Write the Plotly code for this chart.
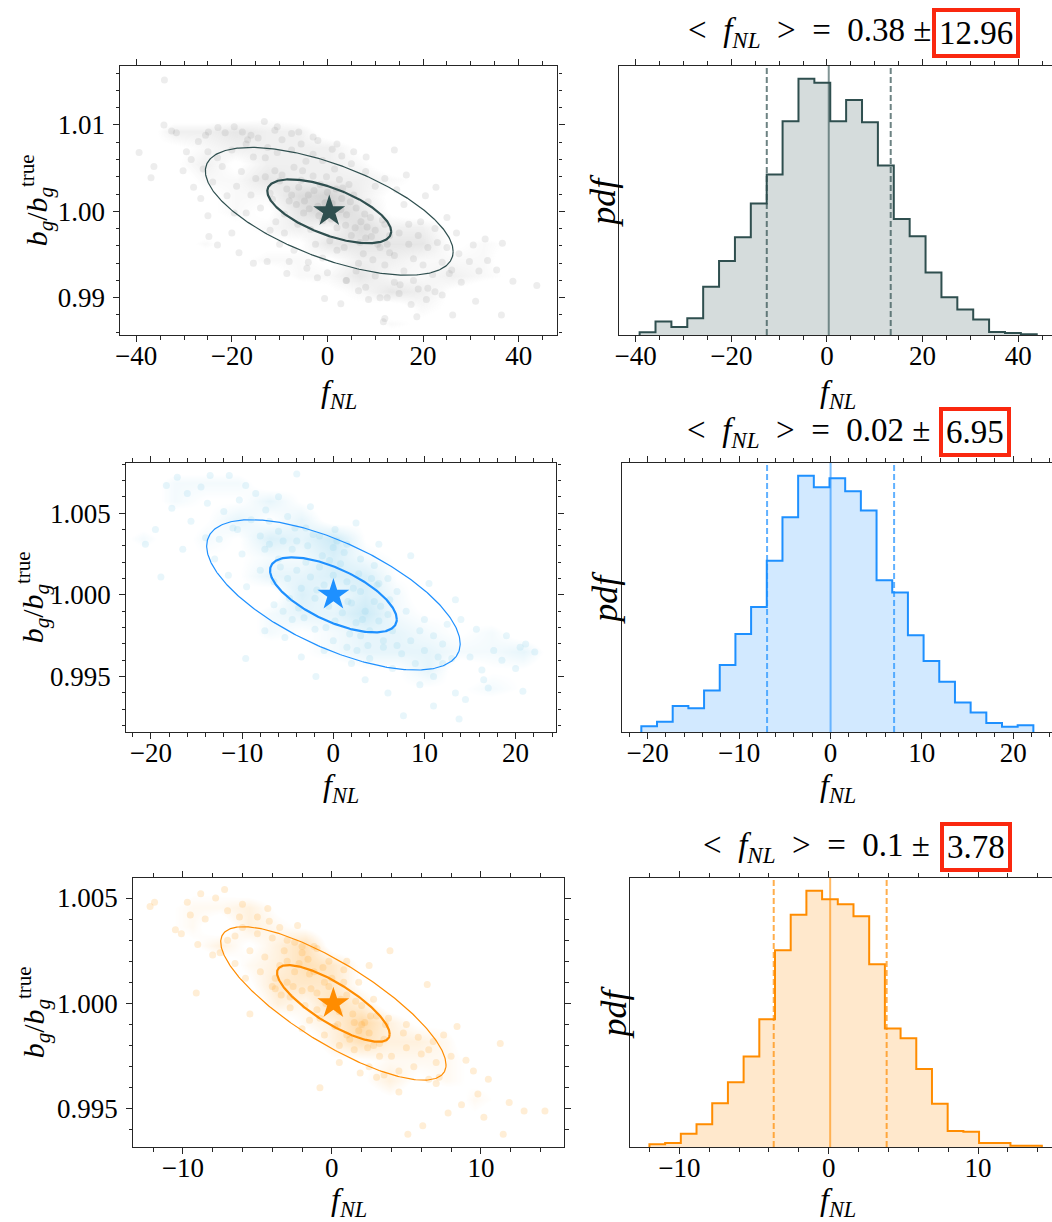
import numpy as np
import plotly.graph_objects as go

# ------------------------------------------------------------------
# Samples of (f_NL, b_g / b_g^true) for the three survey configurations
# ------------------------------------------------------------------
CLOUD_1 = [
    (-34.1, 1.0152), (-34.2, 1.0100), (-32.6, 1.0093), (-31.6, 1.0091), (-39.4, 1.0068),
    (-36.9, 1.0039), (-36.3, 1.0052), (-13.2, 1.0104), (-24.9, 1.0092), (-22.9, 1.0097),
    (-21.4, 1.0091), (-16.7, 1.0083), (14.0, 1.0071), (8.1, 1.0063), (22.7, 1.0028),
    (36.6, 0.9963), (33.5, 0.9943), (35.4, 0.9932), (29.7, 0.9942), (31.7, 0.9931),
    (38.8, 0.9919), (43.8, 0.9914), (36.4, 0.9880), (26.2, 0.9880), (18.7, 0.9878),
    (11.7, 0.9872), (12.0, 0.9876), (31.0, 0.9896), (20.7, 0.9898), (22.5, 0.9907),
    (19.0, 0.9910), (-0.6, 0.9899), (2.8, 0.9893), (12.5, 0.9900), (8.6, 0.9898),
    (-25.0, 0.9995), (-24.8, 0.9971), (-23.0, 0.9961), (-15.5, 0.9940), (-12.6, 0.9942),
    (-4.3, 0.9934), (-2.1, 0.9923), (3.9, 0.9920), (15.2, 0.9915), (28.0, 0.9918),
    (-28.5, 1.0060), (-30.2, 1.0047), (-27.0, 1.0081), (-25.5, 1.0088), (-19.5, 1.0098),
    (-17.8, 1.0092), (-10.5, 1.0098), (-7.5, 1.0090), (-3.0, 1.0086), (2.0, 1.0078),
    (5.5, 1.0069), (-28.0, 1.0028), (-26.5, 1.0015), (27.5, 0.9951), (30.5, 0.9961),
    (25.5, 0.9928), (24.0, 0.9903), (33.0, 0.9968), (27.0, 0.9975), (17.5, 0.9892),
    (6.5, 0.9908), (-8.5, 0.9928), (-18.5, 0.9952), (-20.0, 0.9975), (-29.5, 1.0069),
    (16.5, 1.0042), (20.5, 1.0018), (25.0, 0.9993),
    (-22.0, 1.0052), (-20.0, 1.0071), (-19.0, 1.0029), (-18.0, 1.0046), (-17.0, 1.0078),
    (-16.0, 1.0019), (-15.5, 1.0063), (-14.5, 1.0085), (-12.5, 1.0074), (-10.5, 1.0068),
    (-9.5, 1.0083), (-7.5, 1.0071), (-5.5, 1.0078), (-3.0, 1.0066), (-1.0, 1.0059),
    (1.0, 1.0072), (3.0, 1.0064), (5.0, 1.0055), (-21.0, 1.0018), (-24.0, 1.0034),
    (-23.0, 1.0062), (-19.5, 0.9998), (-12.0, 0.9978), (-10.0, 0.9962), (-7.0, 0.9955),
    (-4.0, 0.9941), (-1.0, 0.9946), (0.0, 0.9929), (2.0, 0.9955), (4.0, 0.9920),
    (6.0, 0.9931), (8.0, 0.9912), (10.0, 0.9925), (12.0, 0.9938), (14.0, 0.9918),
    (16.0, 0.9931), (17.0, 0.9962), (18.0, 0.9945), (19.0, 0.9972), (20.0, 0.9938),
    (21.0, 0.9958), (22.0, 0.9927), (23.0, 0.9964), (24.0, 0.9941), (25.0, 0.9958),
    (19.5, 0.9988), (16.0, 1.0008), (14.5, 1.0025), (12.0, 1.0038), (10.0, 1.0029),
    (8.0, 1.0046), (21.0, 0.9911), (26.0, 0.9932), (-26.0, 1.0049), (-25.0, 1.0069),
    (-17.0, 0.9998), (-8.0, 0.9942), (15.0, 0.9905), (11.0, 0.9900), (18.0, 0.9920),
    (-2.0, 1.0082), (-6.0, 1.0092), (-11.0, 1.0094), (-16.0, 1.0088), (-13.0, 1.0040),
    (-9.0, 0.9975), (13.0, 0.9952), (17.0, 0.9985), (22.5, 0.9980),
    (-10.0, 1.0035), (-8.0, 1.0012), (-6.0, 1.0028), (-5.0, 0.9998), (-4.0, 1.0019),
    (-3.0, 1.0041), (-2.0, 1.0006), (-1.0, 0.9989), (0.0, 1.0022), (1.0, 1.0009),
    (2.0, 0.9981), (3.0, 1.0015), (4.0, 0.9996), (5.0, 0.9972), (6.0, 1.0004),
    (7.0, 0.9988), (8.0, 0.9969), (9.0, 0.9993), (10.0, 0.9978), (11.0, 0.9958),
    (12.0, 0.9985), (-12.0, 1.0021), (-11.0, 1.0047), (-9.0, 0.9997), (-7.0, 1.0051),
    (-6.5, 1.0008), (-3.5, 0.9979), (-1.5, 1.0031), (0.5, 0.9966), (2.5, 1.0037),
    (3.5, 0.9958), (5.5, 1.0019), (7.5, 0.9951), (8.5, 1.0011), (10.5, 0.9962),
    (13.0, 0.9972), (14.0, 0.9949), (-14.0, 1.0004), (-13.0, 1.0062), (-4.5, 1.0058),
    (1.5, 1.0049), (4.5, 1.0031), (6.5, 0.9940), (9.5, 0.9944), (-2.5, 0.9962),
    (-0.5, 1.0010), (-8.5, 1.0026), (11.5, 0.9990), (15.0, 0.9975), (-15.0, 1.0038),
    (-9.5, 1.0042), (-7.5, 1.0019), (-5.5, 1.0036), (-4.8, 1.0012), (-2.8, 1.0024),
    (-1.8, 0.9995), (0.3, 1.0003), (0.8, 0.9991), (1.8, 1.0026), (2.8, 1.0002),
    (3.8, 0.9984), (4.8, 1.0011), (5.8, 0.9981), (6.8, 0.9964), (7.8, 0.9997),
    (9.2, 0.9971), (-6.2, 0.9985), (-0.2, 1.0040), (-11.5, 1.0014), (-3.8, 1.0003),
    (12.5, 0.9962), (-10.8, 0.9988), (3.2, 1.0027), (-5.2, 1.0047), (8.3, 0.9982),
]

CLOUD_2 = [
    (-18.3, 1.0067), (-17.1, 1.0072), (-13.5, 1.0073), (-11.4, 1.0073), (-9.6, 1.0067),
    (-4.0, 1.0074), (-20.6, 1.0031), (-18.9, 1.0011), (-17.7, 1.0053), (-15.6, 1.0045),
    (-13.8, 1.0056), (-10.3, 1.0058), (-7.4, 1.0052), (0.2, 1.0040), (5.0, 1.0031),
    (8.5, 1.0024), (13.4, 0.9997), (15.7, 0.9979), (21.1, 0.9970), (22.1, 0.9965),
    (20.5, 0.9968), (17.6, 0.9966), (16.3, 0.9954), (20.0, 0.9955), (16.5, 0.9948),
    (13.4, 0.9940), (14.5, 0.9936), (20.8, 0.9941), (13.8, 0.9924), (7.7, 0.9926),
    (-1.9, 0.9950), (-9.6, 0.9961), (-5.3, 0.9974),
    (-16.0, 1.0062), (-14.5, 1.0066), (-12.0, 1.0051), (-8.5, 1.0062), (-6.0, 1.0060),
    (-2.5, 1.0054), (2.5, 1.0044), (-19.5, 1.0040), (-16.5, 1.0028), (11.0, 0.9932),
    (9.5, 0.9945), (12.0, 0.9958), (18.5, 0.9960), (19.0, 0.9975), (15.0, 0.9962),
    (6.0, 0.9940), (3.5, 0.9948), (-3.5, 0.9962), (-7.5, 0.9978), (10.5, 1.0007),
    (14.0, 0.9985), (17.0, 0.9943),
    (-12.5, 1.0034), (-11.0, 1.0041), (-10.0, 1.0025), (-9.0, 1.0046), (-8.0, 1.0036),
    (-7.0, 1.0045), (-6.0, 1.0039), (-5.0, 1.0048), (-4.0, 1.0033), (-3.0, 1.0041),
    (-1.5, 1.0036), (0.0, 1.0029), (1.5, 1.0031), (3.0, 1.0022), (4.5, 1.0018),
    (-13.0, 1.0022), (-11.5, 1.0012), (-9.5, 1.0005), (-6.5, 0.9994), (-4.5, 0.9985),
    (-2.0, 0.9979), (0.0, 0.9972), (1.5, 0.9968), (3.0, 0.9975), (4.0, 0.9961),
    (5.5, 0.9968), (6.5, 0.9955), (7.5, 0.9964), (8.5, 0.9972), (9.0, 0.9958),
    (10.0, 0.9966), (11.0, 0.9975), (12.0, 0.9970), (12.5, 0.9982), (11.5, 0.9962),
    (10.0, 0.9985), (8.0, 0.9990), (7.0, 1.0002), (6.0, 1.0010), (13.0, 0.9961),
    (-8.0, 1.0015), (-14.0, 1.0035), (-10.5, 1.0040), (-7.5, 1.0028), (2.0, 0.9958),
    (9.5, 0.9978), (-1.0, 0.9966), (-5.5, 0.9990), (5.0, 1.0007), (11.0, 0.9950),
    (-6.0, 1.0022), (-5.0, 1.0010), (-4.5, 1.0028), (-4.0, 1.0015), (-3.5, 1.0004),
    (-3.0, 1.0020), (-2.5, 1.0011), (-2.0, 0.9998), (-1.5, 1.0017), (-1.0, 1.0006),
    (-0.5, 0.9993), (0.0, 1.0012), (0.5, 1.0000), (1.0, 0.9989), (1.5, 1.0008),
    (2.0, 0.9995), (2.5, 0.9983), (3.0, 1.0002), (3.5, 0.9990), (4.0, 0.9978),
    (4.5, 0.9996), (5.0, 0.9984), (5.5, 0.9972), (6.0, 0.9988), (6.5, 0.9978),
    (-5.5, 1.0033), (-6.5, 1.0008), (-3.8, 0.9992), (-2.8, 1.0030), (-1.2, 1.0024),
    (0.2, 0.9984), (0.8, 1.0019), (1.8, 0.9976), (2.8, 1.0013), (3.8, 0.9969),
    (4.8, 1.0006), (-4.8, 0.9998), (-0.8, 0.9980), (1.2, 1.0026), (2.2, 1.0004),
    (-2.2, 1.0037), (3.2, 0.9985), (5.2, 0.9993), (-3.2, 0.9986), (-7.0, 1.0031),
    (7.0, 0.9969), (-1.8, 1.0003), (0.4, 1.0033), (4.2, 1.0010), (-5.8, 1.0017),
    (2.6, 0.9966), (6.2, 0.9997), (-4.2, 1.0041), (1.6, 0.9996), (-0.4, 1.0021),
]

CLOUD_3 = [
    (-11.9, 1.0048), (-12.2, 1.0046), (-9.7, 1.0048), (-8.8, 1.0052), (-7.2, 1.0054),
    (-7.8, 1.0050), (-9.5, 1.0042), (-10.5, 1.0035), (-10.1, 1.0033), (-9.1, 1.0005),
    (-8.0, 1.0023), (-5.5, 0.9995), (-4.3, 1.0045), (-2.3, 1.0037), (3.9, 1.0025),
    (6.4, 1.0009), (-0.8, 0.9960), (1.9, 0.9967), (8.4, 0.9989), (11.3, 0.9981),
    (10.5, 0.9964), (9.0, 0.9973), (11.9, 0.9953), (12.9, 0.9949), (14.3, 0.9949),
    (11.5, 0.9938), (10.2, 0.9946), (7.8, 0.9948), (6.1, 0.9942), (5.1, 0.9938),
    (8.7, 0.9952), (9.8, 0.9957),
    (-8.5, 1.0040), (-7.0, 1.0044), (-6.0, 1.0047), (-5.0, 1.0041), (-6.5, 1.0032),
    (-9.0, 1.0028), (-3.0, 1.0030), (-1.0, 1.0026), (1.0, 1.0020), (2.5, 1.0018),
    (-4.0, 1.0008), (-2.0, 0.9988), (0.5, 0.9972), (3.0, 0.9965), (4.5, 0.9958),
    (7.0, 0.9962), (8.0, 0.9975), (9.5, 0.9968), (6.5, 0.9978), (5.0, 0.9990),
    (7.5, 0.9985),
    (-7.0, 1.0030), (-6.0, 1.0036), (-5.5, 1.0025), (-5.0, 1.0033), (-4.5, 1.0022),
    (-4.0, 1.0031), (-3.5, 1.0036), (-3.0, 1.0020), (-2.5, 1.0029), (-2.0, 1.0024),
    (-6.5, 1.0019), (-5.8, 1.0012), (-4.8, 1.0015), (-3.8, 1.0007), (-2.8, 0.9998),
    (-1.5, 0.9992), (-0.5, 0.9985), (0.5, 0.9980), (1.5, 0.9978), (2.5, 0.9970),
    (3.5, 0.9966), (4.0, 0.9975), (4.5, 0.9968), (5.0, 0.9979), (5.5, 0.9970),
    (6.0, 0.9976), (6.5, 0.9964), (7.0, 0.9972), (5.8, 0.9984), (4.8, 0.9986),
    (3.8, 0.9993), (2.8, 1.0002), (1.8, 1.0010), (0.8, 1.0016), (-0.2, 1.0020),
    (-1.2, 1.0027), (3.2, 0.9981), (2.0, 0.9990), (-6.2, 1.0041), (-4.2, 1.0039),
    (6.8, 0.9982), (7.2, 0.9965), (-7.5, 1.0024), (-1.0, 0.9997),
    (-3.5, 1.0018), (-3.0, 1.0010), (-2.5, 1.0015), (-2.0, 1.0006), (-1.5, 1.0014),
    (-1.0, 1.0005), (-0.5, 1.0010), (0.0, 1.0001), (0.5, 0.9996), (1.0, 1.0004),
    (1.5, 0.9991), (2.0, 0.9999), (2.5, 0.9986), (3.0, 0.9994), (3.5, 0.9983),
    (-3.2, 1.0025), (-2.2, 1.0019), (-1.2, 1.0015), (-0.2, 1.0008), (0.8, 1.0010),
    (1.8, 0.9987), (2.8, 0.9980), (-2.8, 1.0003), (-1.8, 0.9999), (-0.8, 0.9993),
    (0.2, 0.9989), (1.2, 0.9983), (2.2, 0.9991), (3.2, 0.9975), (-3.8, 1.0012),
    (-0.6, 1.0017), (0.6, 1.0002), (1.6, 1.0001), (-1.6, 1.0021), (2.6, 0.9994),
    (-2.6, 1.0008), (0.4, 0.9990), (-0.4, 1.0000), (1.4, 0.9995), (3.6, 0.9990),
    (-1.4, 1.0007), (2.4, 0.9979), (-3.4, 1.0004), (0.0, 1.0012), (1.0, 0.9985),
    (-2.0, 1.0027),
]

# f_NL histograms: counts per bin and the outer bin edges (25 equal bins)
HIST_COUNTS_1 = [8, 40, 24, 50, 144, 221, 292, 393, 480, 639, 766, 754, 639,
                 703, 636, 507, 347, 295, 187, 113, 76, 46, 9, 6, 2]
HIST_RANGE_1 = (-39.17, 43.88)
HIST_COUNTS_2 = [17, 31, 78, 71, 124, 200, 293, 374, 512, 642, 766, 732, 759,
                 720, 662, 454, 417, 289, 212, 150, 88, 58, 27, 16, 20]
HIST_RANGE_2 = (-20.69, 22.21)
HIST_COUNTS_3 = [8, 12, 40, 68, 131, 194, 271, 383, 590, 696, 768, 743, 728,
                 692, 548, 355, 326, 234, 130, 48, 46, 12, 12, 4, 4]
HIST_RANGE_3 = (-12.0, 14.27)

# Summary statistics of each posterior
FNL_MEAN = [0.38, 0.02, 0.1]
FNL_STD = [12.96, 6.95, 3.78]
FNL_MEAN_LABEL = ["0.38", "0.02", "0.1"]
FNL_STD_LABEL = ["12.96", "6.95", "3.78"]
BG_MEAN = [1.0, 1.0, 1.0]
BG_STD = [0.0037, 0.0023, 0.00182]
CORR = [-0.63, -0.65, -0.80]

# ------------------------------------------------------------------
# Styling / layout
# ------------------------------------------------------------------
W, H = 1052, 1222
SERIF = "Liberation Serif"
SPINE = "#262626"
LINE_COLORS = ["#2f4f4f", "#1e90ff", "#ff8c00"]
LINE_RGB = [(47, 79, 79), (30, 144, 255), (255, 140, 0)]
POINT_RGB = [(128, 128, 128), (135, 206, 235), (255, 159, 26)]
POINT_ALPHA = [0.14, 0.19, 0.18]
HAZE_ALPHA = [0.34, 0.42, 0.40]

# pixel boxes (left, right, top, bottom)
LEFT_BOX = [(116, 555, 66, 335), (122, 554, 463, 732), (129, 562, 878, 1147)]
RIGHT_BOX = [(617, 1052, 66, 335), (620, 1052, 463, 732), (628, 1052, 878, 1147)]

SCAT_XRANGE = [(-43.3, 48.1), (-22.68, 24.47), (-13.32, 15.6)]
SCAT_YRANGE = [(0.98568, 1.01683), (0.99161, 1.00807), (0.99319, 1.00595)]
SCAT_XDTICK = [(20, 5), (10, 2), (10, 2)]
SCAT_YDTICK = [(0.01, 0.002), (0.005, 0.001), (0.005, 0.001)]
SCAT_YFMT = [".2f", ".3f", ".3f"]
HIST_XRANGE = [(-43.47, 47.07), (-22.8, 24.25), (-13.3, 14.95)]
HIST_XDTICK = [(20, 5), (10, 2), (10, 2)]

TITLE_Y = [33, 432, 847]
BOX_CX = [976, 975, 975.5]
YLAB_X = [32, 28, 29]
PDF_X = [600, 602, 611]
XLAB_Y = [393, 787, 1201]
HIST_CENTRE_X = 837


def px(x):
    return x / W


def py(y):
    return 1 - y / H


def rgba(rgb, a):
    return "rgba(%d,%d,%d,%.3f)" % (rgb[0], rgb[1], rgb[2], a)


def base_axis():
    return dict(showline=True, linecolor=SPINE, linewidth=1.3, ticks="outside",
                ticklen=6, tickwidth=1.2, tickcolor=SPINE, showgrid=False,
                zeroline=False, tickfont=dict(family=SERIF, size=27, color="black"))


def minor_ticks(step):
    return dict(dtick=step, ticks="outside", ticklen=3.5, tickwidth=1, tickcolor=SPINE)


clouds = [CLOUD_1, CLOUD_2, CLOUD_3]
hist_counts = [HIST_COUNTS_1, HIST_COUNTS_2, HIST_COUNTS_3]
hist_ranges = [HIST_RANGE_1, HIST_RANGE_2, HIST_RANGE_3]

fig = go.Figure()
layout = dict(width=W, height=H, margin=dict(l=0, r=0, t=0, b=0),
              paper_bgcolor="white", plot_bgcolor="white", showlegend=False,
              bargap=0, barmode="overlay")
shapes = []
annotations = []

FNL_HTML = "<i>f</i><sub><i>NL</i></sub>"
SP = "\u00a0"

for r in range(3):
    ks, kh = 2 * r + 1, 2 * r + 2
    xs_name, ys_name = "x%d" % ks, "y%d" % ks
    xh_name, yh_name = "x%d" % kh, "y%d" % kh
    col = LINE_COLORS[r]
    rgb = LINE_RGB[r]

    # ---------- scatter panel ----------
    f_vals = [p[0] for p in clouds[r]]
    b_vals = [p[1] for p in clouds[r]]

    # smoothed sample density (core of the cloud) underneath the individual points;
    # the binning extends well past the samples so the haze fades out at its rim
    sf, sb = FNL_STD[r], BG_STD[r]
    fig.add_trace(go.Histogram2d(
        x=f_vals, y=b_vals, xaxis=xs_name, yaxis=ys_name, zsmooth="best",
        xbins=dict(start=FNL_MEAN[r] - 4.25 * sf, end=FNL_MEAN[r] + 4.25 * sf, size=0.5 * sf),
        ybins=dict(start=BG_MEAN[r] - 4.25 * sb, end=BG_MEAN[r] + 4.25 * sb, size=0.5 * sb),
        colorscale=[[0, rgba(POINT_RGB[r], 0.0)], [0.22, rgba(POINT_RGB[r], 0.0)],
                    [1, rgba(POINT_RGB[r], HAZE_ALPHA[r])]],
        showscale=False, hoverinfo="skip"))

    fig.add_trace(go.Scatter(
        x=f_vals, y=b_vals, mode="markers", xaxis=xs_name, yaxis=ys_name,
        marker=dict(size=7, color=rgba(POINT_RGB[r], 1.0), opacity=POINT_ALPHA[r],
                    line=dict(width=0)),
        hoverinfo="skip"))

    t = np.linspace(0, 2 * np.pi, 361)
    for k, w in ((2, 1.2), (1, 2.2)):
        ef = FNL_MEAN[r] + k * sf * np.cos(t)
        eb = BG_MEAN[r] + k * sb * (CORR[r] * np.cos(t) + np.sqrt(1 - CORR[r] ** 2) * np.sin(t))
        fig.add_trace(go.Scatter(x=ef, y=eb, mode="lines", xaxis=xs_name, yaxis=ys_name,
                                 line=dict(color=col, width=w), hoverinfo="skip"))

    fig.add_trace(go.Scatter(x=[FNL_MEAN[r]], y=[BG_MEAN[r]], mode="markers",
                             xaxis=xs_name, yaxis=ys_name,
                             marker=dict(symbol="star", size=24, color=col, line=dict(width=0))))

    l, rr, tp, bt = LEFT_BOX[r]
    ax = base_axis()
    ax.update(domain=[px(l), px(rr)], range=list(SCAT_XRANGE[r]), anchor=ys_name,
              mirror="ticks", dtick=SCAT_XDTICK[r][0], tick0=0, ticklabelstandoff=-10,
              minor=minor_ticks(SCAT_XDTICK[r][1]))
    layout["xaxis%d" % ks] = ax
    ay = base_axis()
    ay.update(domain=[py(bt), py(tp)], range=list(SCAT_YRANGE[r]), anchor=xs_name,
              mirror="ticks", dtick=SCAT_YDTICK[r][0], tick0=1.0, tickformat=SCAT_YFMT[r],
              ticklabelstandoff=3, minor=minor_ticks(SCAT_YDTICK[r][1]))
    layout["yaxis%d" % ks] = ay

    # ---------- histogram panel ----------
    counts = np.array(hist_counts[r], dtype=float)
    lo, hi = hist_ranges[r]
    edges = np.linspace(lo, hi, len(counts) + 1)
    width = edges[1] - edges[0]
    pdf = counts / (counts.sum() * width)
    centers = 0.5 * (edges[:-1] + edges[1:])
    fig.add_trace(go.Bar(x=centers, y=pdf, width=width, xaxis=xh_name, yaxis=yh_name,
                         marker=dict(color=rgba(rgb, 0.2), line=dict(width=0)),
                         hoverinfo="skip"))
    step_x = [edges[0]] + list(edges[:-1]) + [edges[-1]]
    step_y = [0.0] + list(pdf) + [0.0]
    fig.add_trace(go.Scatter(x=step_x, y=step_y, mode="lines", line_shape="hv",
                             xaxis=xh_name, yaxis=yh_name,
                             line=dict(color=col, width=2), hoverinfo="skip"))

    # mean and +/- 1 sigma markers
    shapes.append(dict(type="line", xref=xh_name, yref=yh_name + " domain",
                       x0=FNL_MEAN[r], x1=FNL_MEAN[r], y0=0, y1=1,
                       line=dict(color=rgba(rgb, 0.6), width=2)))
    for s in (-1, 1):
        xv = FNL_MEAN[r] + s * FNL_STD[r]
        shapes.append(dict(type="line", xref=xh_name, yref=yh_name + " domain",
                           x0=xv, x1=xv, y0=0, y1=1,
                           line=dict(color=rgba(rgb, 0.7), width=2, dash="6px,3px")))

    l, rr, tp, bt = RIGHT_BOX[r]
    ax = base_axis()
    ax.update(domain=[px(l), px(rr)], range=list(HIST_XRANGE[r]), anchor=yh_name,
              mirror="ticks", dtick=HIST_XDTICK[r][0], tick0=0, ticklabelstandoff=-10,
              minor=minor_ticks(HIST_XDTICK[r][1]))
    layout["xaxis%d" % kh] = ax
    ay = base_axis()
    ay.update(domain=[py(bt), py(tp)], range=[0, pdf.max() * 1.05], anchor=xh_name,
              mirror=False, ticks="", showticklabels=False)
    layout["yaxis%d" % kh] = ay

    # ---------- labels ----------
    lab_font = dict(family=SERIF, size=32, color="black")
    annotations.append(dict(
        text="<i>b</i><sub><i>g</i></sub>/<i>b</i><sub><i>g</i></sub><sup>true</sup>",
        x=px(YLAB_X[r]), y=py((LEFT_BOX[r][2] + LEFT_BOX[r][3]) / 2),
        xref="paper", yref="paper", showarrow=False, textangle=-90,
        font=dict(family=SERIF, size=30, color="black"),
        xanchor="center", yanchor="middle"))
    annotations.append(dict(
        text="<i>pdf</i>", x=px(PDF_X[r]), y=py((RIGHT_BOX[r][2] + RIGHT_BOX[r][3]) / 2),
        xref="paper", yref="paper", showarrow=False, textangle=-90,
        font=dict(family=SERIF, size=36, color="black"),
        xanchor="center", yanchor="middle"))
    for centre in ((LEFT_BOX[r][0] + LEFT_BOX[r][1]) / 2, HIST_CENTRE_X):
        annotations.append(dict(
            text=FNL_HTML, x=px(centre), y=py(XLAB_Y[r]), xref="paper", yref="paper",
            showarrow=False, font=lab_font, xanchor="center", yanchor="middle"))

    # title with the boxed uncertainty
    title_font = dict(family=SERIF, size=33, color="black")
    title_txt = ("&lt;" + SP * 2 + FNL_HTML + SP * 2 + "&gt;" + SP * 2 + "=" + SP * 2
                 + FNL_MEAN_LABEL[r] + SP + "±")
    annotations.append(dict(
        text=title_txt, x=px(BOX_CX[r] - 44), y=py(TITLE_Y[r]), xref="paper", yref="paper",
        showarrow=False, font=title_font, xanchor="right", yanchor="middle"))
    annotations.append(dict(
        text=FNL_STD_LABEL[r], x=px(BOX_CX[r]), y=py(TITLE_Y[r]),
        xref="paper", yref="paper", showarrow=False, font=title_font,
        xanchor="center", yanchor="middle",
        bordercolor="rgb(250,40,15)", borderwidth=4, borderpad=3, bgcolor="white"))

layout["shapes"] = shapes
layout["annotations"] = annotations
fig.update_layout(**layout)
fig.write_html("out.html")
